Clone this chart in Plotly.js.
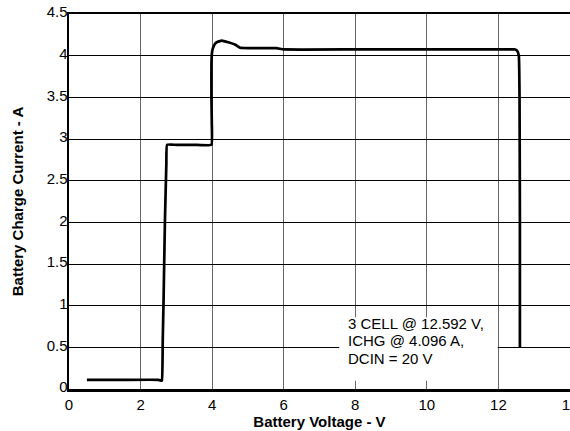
<!DOCTYPE html>
<html>
<head>
<meta charset="utf-8">
<script src="https://cdn.plot.ly/plotly-3.0.1.min.js"></script>
<style>html,body{margin:0;padding:0;background:#fff;}#chart{width:570px;height:431px;}</style>
</head>
<body>
<div id="chart"></div>
<script>
// Battery charge profile
const voltage = [0.5, 1.5, 2.5, 2.58, 2.6, 2.62, 2.64, 2.68, 2.72, 2.74, 3.0, 3.5, 3.98, 3.99, 3.98, 3.98, 4.0, 4.05, 4.12, 4.27, 4.45, 4.65, 4.78, 5.2, 5.8, 6.0, 8.0, 10.0, 12.0, 12.45, 12.52, 12.57, 12.59, 12.6, 12.6];
const current = [0.11, 0.11, 0.11, 0.10, 0.10, 0.6, 1.0, 2.0, 2.7, 2.93, 2.93, 2.93, 2.93, 3.2, 3.5, 3.9, 4.05, 4.12, 4.16, 4.18, 4.16, 4.13, 4.095, 4.09, 4.09, 4.075, 4.075, 4.075, 4.075, 4.075, 4.06, 4.0, 3.5, 2.0, 0.5];
const xTicks = [0, 2, 4, 6, 8, 10, 12, 14];
const yTicks = [0, 0.5, 1, 1.5, 2, 2.5, 3, 3.5, 4, 4.5];
const yTickLabels = ['0', '0.5', '1', '1.5', '2', '2.5', '3', '3.5', '4', '4.5'];
const noteLines = ['3 CELL @ 12.592 V,', 'ICHG @ 4.096 A,', 'DCIN = 20 V'];

const font = 'Liberation Sans, Arial, sans-serif';
const trace = {
  x: voltage, y: current, type: 'scatter', mode: 'lines',
  line: {color: '#000', width: 2.7, shape: 'spline', smoothing: 0.3},
  hoverinfo: 'skip'
};
const noteY = [0.79, 0.58, 0.37];
const annotations = noteLines.map((t, i) => ({
  xref: 'x', yref: 'y', x: 7.73, y: noteY[i], xanchor: 'left', yanchor: 'middle',
  text: t, showarrow: false, font: {family: font, size: 15, color: '#000'}
}));
const layout = {
  width: 570, height: 431,
  margin: {l: 69, r: 0, t: 14, b: 42, autoexpand: false},
  paper_bgcolor: '#fff', plot_bgcolor: '#fff',
  showlegend: false,
  font: {family: font, size: 15, color: '#000'},
  xaxis: {
    range: [0, 14], tickvals: xTicks, ticktext: xTicks.map(String),
    showgrid: true, gridcolor: '#666', gridwidth: 1, automargin: false,
    showline: true, linecolor: '#000', linewidth: 2.5, mirror: true,
    ticks: '', zeroline: false, ticklabeloverflow: 'allow',
    tickfont: {family: font, size: 15, color: '#000'},
    title: {text: 'Battery Voltage - V', font: {family: font, size: 15, color: '#000', weight: 'bold'}, standoff: 4}
  },
  yaxis: {
    range: [0, 4.5], tickvals: yTicks, ticktext: yTickLabels,
    showgrid: true, gridcolor: '#000', gridwidth: 1, automargin: false,
    showline: true, linecolor: '#000', linewidth: 2.5,
    ticks: '', zeroline: false, ticklabelstandoff: -4, ticklabelshift: -2, ticklabeloverflow: 'allow',
    tickfont: {family: font, size: 15, color: '#000'},
    title: {text: 'Battery Charge Current - A', font: {family: font, size: 15, color: '#000', weight: 'bold'}, standoff: 20}
  },
  shapes: [{
    type: 'rect', xref: 'x', yref: 'y', x0: 7.55, x1: 11.98, y0: 0.10, y1: 0.86,
    fillcolor: '#fff', line: {width: 0}, layer: 'above'
  }],
  annotations: annotations
};
Plotly.newPlot('chart', [trace], layout, {displayModeBar: false, staticPlot: true});
</script>
</body>
</html>
